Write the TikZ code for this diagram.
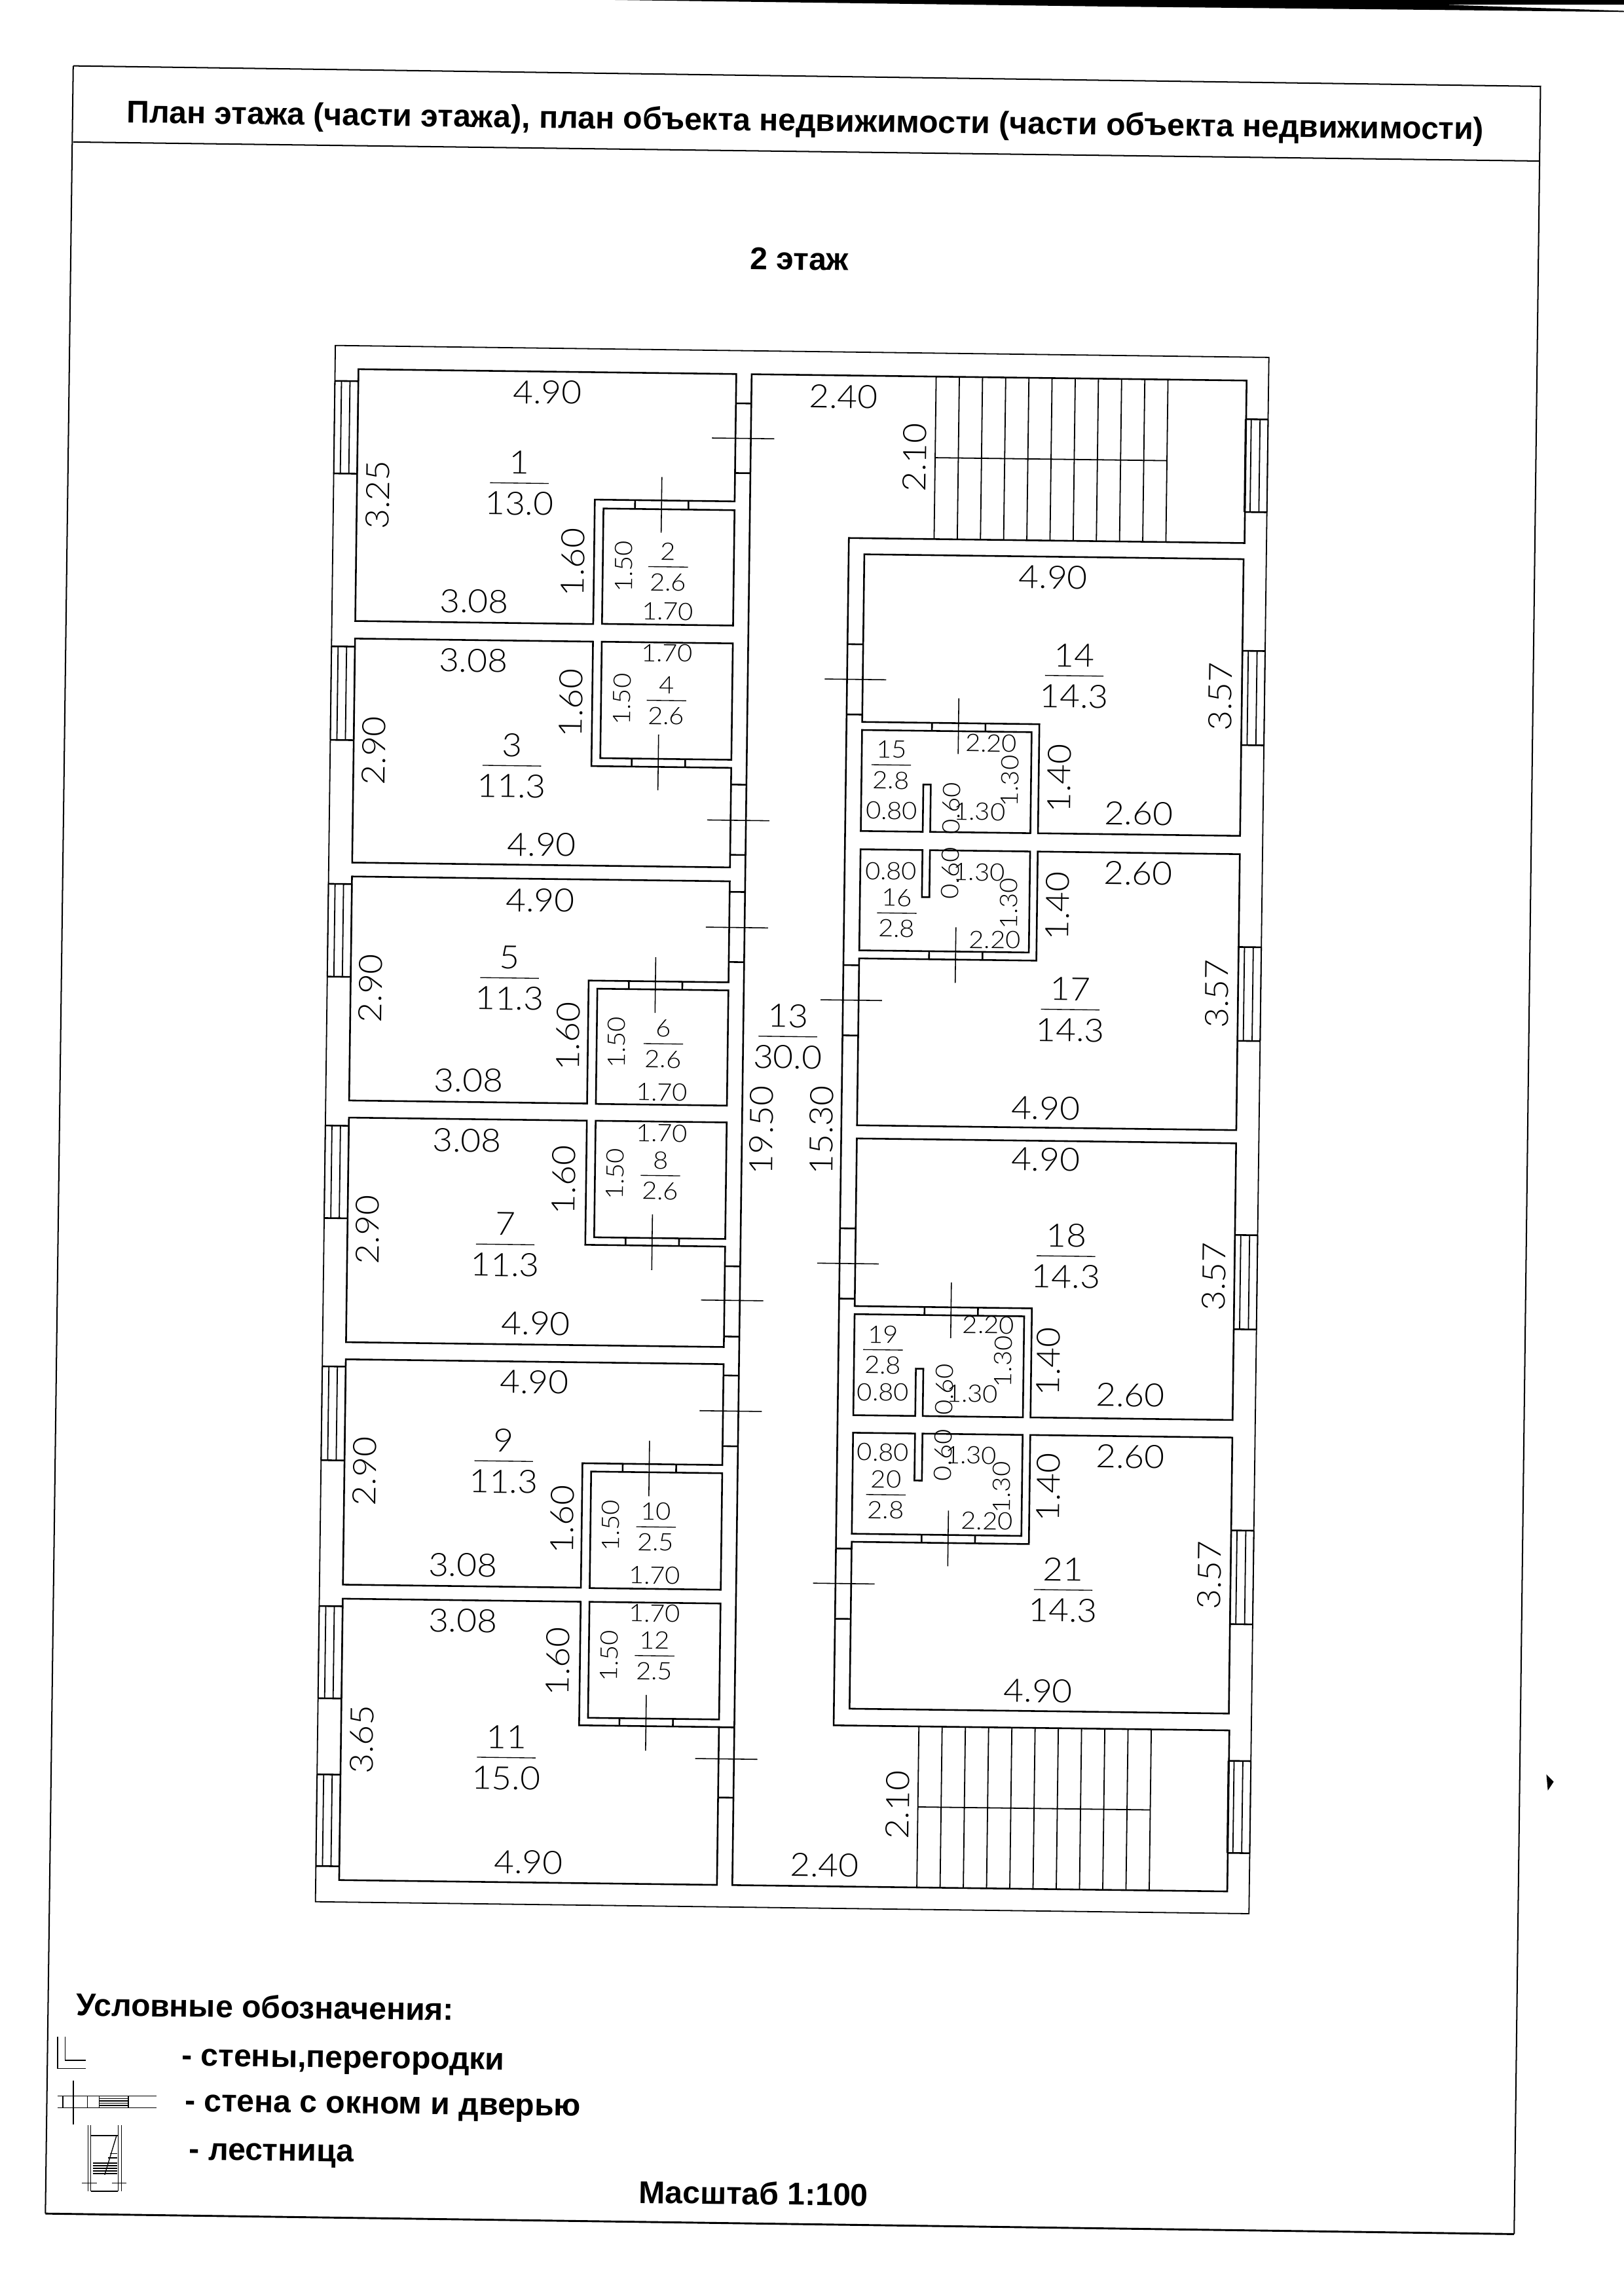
\documentclass[tikz,border=0pt]{standalone}
\usepackage{fontspec}
\setmainfont{Liberation Sans}
\newfontfamily\dimf{Lato Light}
\newcounter{dn}
\tikzset{
  wallthick/.style={line width=1.15pt,line join=miter},
  wallthin/.style={line width=0.8pt},
  framel/.style={line width=0.9pt},
  thinl/.style={line width=0.6pt},
  crossl/.style={line width=0.7pt},
  lbl/.style={inner sep=0pt,font=\dimf\fontsize{22}{22}\selectfont,rotate=-0.72,xscale=1.08},
  lblv/.style={inner sep=0pt,font=\dimf\fontsize{22}{22}\selectfont,rotate=89.28,xscale=1.08},
  sml/.style={inner sep=0pt,font=\dimf\fontsize{16.5}{16.5}\selectfont,rotate=-0.72,xscale=1.08},
  smlv/.style={inner sep=0pt,font=\dimf\fontsize{16.5}{16.5}\selectfont,rotate=89.28,xscale=1.08},
  head/.style={inner sep=0pt,font=\bfseries\fontsize{21.5}{21.5}\selectfont,rotate=-0.72},
  plan/.style={x={(1pt,-0.0128pt)},y={(-0.0128pt,-1pt)}}
}
\newcommand{\pd}[4][lbl]{\stepcounter{dn}\node[#1] (t\arabic{dn}) at (#2,#3) {#4};}
\newcommand{\pr}[7]{% x y num area halfwidth style shift
  \stepcounter{dn}\node[#6] (t\arabic{dn}) at ($(#1,#2)+(0.15,-#7)$) {#3};
  \stepcounter{dn}\node[#6] (t\arabic{dn}) at ($(#1,#2)+(-0.15,#7)$) {#4};
  \draw[thinl] ($(#1,#2)+(-#5,-0.09*#5/7)$) -- ($(#1,#2)+(#5,0.09*#5/7)$);}
\newcommand{\rct}[5][wallthick]{\draw[#1] (#2,#3) -- (#4,#3) -- (#4,#5) -- (#2,#5) -- cycle;}
\newcommand{\wnd}[6]{% u0 ua ub u1 v0 v1
  \draw[wallthin] (#1,#5) -- (#1,#6) (#2,#5) -- (#2,#6) (#3,#5) -- (#3,#6) (#4,#5) -- (#4,#6);
  \draw[wallthick] (#1,#5) -- (#4,#5) (#1,#6) -- (#4,#6);}
\newcommand{\ldoor}[3]{% corridor side doors, left block
  \draw[wallthick] (506,#1) -- (516.5,#1) (506,#2) -- (516.5,#2);
  \draw[crossl] (490,#3) -- (532.5,#3);}
\newcommand{\rdoor}[2]{% right block
  \draw[wallthick] (584.3,#1) -- (595,#1) (584.3,#1+48) -- (595,#1+48);
  \draw[crossl] (569,#2) -- (611,#2);}
\newcommand{\wcdoor}[6]{% ua ub uc va vb, cross start
  \draw[wallthick] (#1,#4) -- (#1,#5) (#2,#4) -- (#2,#5);
  \draw[crossl] (#3,#6) -- (#3,#6+38);}
\usetikzlibrary{calc}
\begin{document}
\begin{tikzpicture}[x=1pt,y=-1pt]
\useasboundingbox (0,0) rectangle (1109,1568.3);
% scan edge at the top right
\fill[black] (420,0) -- (1109,0) -- (1109,3.2) -- (985,3.2) -- (1109,7.4) -- (1109,8.2) -- (985,6.8) -- (760,4.5) -- cycle;
% frame
\draw[framel] (50,45) -- (1052,59) -- (1034,1526);
\draw[line width=1.3pt] (1034,1526) -- (31,1512);
\draw[framel] (31,1512) -- (50,45);
\draw[framel] (50,97) -- (1051,110);
\pd[head]{550}{84}{План этажа (части этажа), план объекта недвижимости (части объекта недвижимости)}
\pd[head]{546}{177}{2 этаж}
% ---------- plan in its own slightly turned axes ----------
\begin{scope}[plan]
\rct[wallthin]{232}{233}{869.5}{1296}
% corridor with stair wells
\draw[wallthick] (516.5,249) -- (854.5,249) -- (854.5,360) -- (584.3,360) -- (584.3,1171) -- (854.5,1171) -- (854.5,1281) -- (516.5,1281) -- cycle;
% left block
\draw[wallthick] (248,249) -- (506,249) -- (506,336) -- (410.5,336) -- (410.5,421) -- (248,421) -- cycle;
\rct{416.5}{342}{506}{420.8}
\draw[wallthick] (248,433) -- (410.5,433) -- (410.5,518) -- (506,518) -- (506,586) -- (248,586) -- cycle;
\rct{416.5}{433}{506}{512.5}
\draw[wallthick] (248,595.5) -- (506,595.5) -- (506,664.5) -- (410.5,664.5) -- (410.5,748.5) -- (248,748.5) -- cycle;
\rct{416.5}{670}{506}{748.7}
\draw[wallthick] (248,760.2) -- (410.5,760.2) -- (410.5,845) -- (506,845) -- (506,913.6) -- (248,913.6) -- cycle;
\rct{416.5}{760.2}{506}{839.8}
\draw[wallthick] (248,925.3) -- (506,925.3) -- (506,994.2) -- (410.5,994.2) -- (410.5,1079.2) -- (248,1079.2) -- cycle;
\rct{416.5}{999.8}{506}{1079.4}
\draw[wallthick] (248,1088.8) -- (410.5,1088.8) -- (410.5,1173.2) -- (506,1173.2) -- (506,1281) -- (248,1281) -- cycle;
\rct{416.5}{1088.8}{506}{1168}
% right block
\draw[wallthick] (595,371) -- (854,371) -- (854,560) -- (716,560) -- (716,485.5) -- (595,485.5) -- cycle;
\draw[wallthick] (595,491) -- (710.8,491) -- (710.8,560) -- (642.4,560) -- (642.4,527.7) -- (637.3,527.7) -- (637.3,560) -- (595,560) -- cycle;
\draw[wallthick] (595,572.5) -- (637.3,572.5) -- (637.3,604.6) -- (642.4,604.6) -- (642.4,572.5) -- (710.8,572.5) -- (710.8,641.5) -- (595,641.5) -- cycle;
\draw[wallthick] (716,572.5) -- (854,572.5) -- (854,761) -- (595,761) -- (595,647) -- (716,647) -- cycle;
\draw[wallthick] (595,770) -- (854,770) -- (854,959) -- (716,959) -- (716,884.5) -- (595,884.5) -- cycle;
\draw[wallthick] (595,890) -- (710.8,890) -- (710.8,959) -- (642.4,959) -- (642.4,926.7) -- (637.3,926.7) -- (637.3,959) -- (595,959) -- cycle;
\draw[wallthick] (595,971) -- (637.3,971) -- (637.3,1003.1) -- (642.4,1003.1) -- (642.4,971) -- (710.8,971) -- (710.8,1040) -- (595,1040) -- cycle;
\draw[wallthick] (716,971) -- (854,971) -- (854,1159.5) -- (595,1159.5) -- (595,1045.5) -- (716,1045.5) -- cycle;
% stairs
\foreach \k in {0,...,10} {
  \draw[wallthin] ({642.5+15.83*\k},249) -- ({642.5+15.83*\k},360);
  \draw[wallthin] ({642.5+15.87*\k},1171) -- ({642.5+15.87*\k},1281);
}
\draw[wallthin] (642.5,304.4) -- (800.8,304.4);
\draw[wallthin] (642.5,1226) -- (801.2,1226);
% windows
\wnd{232}{236.5}{242.3}{248}{257.2}{320.4}
\wnd{232}{236.5}{242.3}{248}{438.5}{502.4}
\wnd{232}{236.5}{242.3}{248}{600.7}{664.1}
\wnd{232}{236.5}{242.3}{248}{765.8}{829}
\wnd{232}{236.5}{242.3}{248}{930.3}{994.4}
\wnd{232}{236.5}{242.3}{248}{1094}{1157}
\wnd{232}{236.5}{242.3}{248}{1209}{1271.6}
\wnd{854}{858}{864}{869.5}{275.4}{338.8}
\wnd{854}{858}{864}{869.5}{433.6}{498}
\wnd{854}{858}{864}{869.5}{635.9}{700}
\wnd{854}{858}{864}{869.5}{832.6}{897}
\wnd{854}{858}{864}{869.5}{1034.4}{1098.4}
\wnd{854}{858}{864}{869.5}{1191.8}{1254.7}
% doors, left block
\ldoor{269}{316.6}{292.9}
\ldoor{529.4}{577.4}{553.8}
\ldoor{602.7}{650.6}{627}
\ldoor{858.4}{906.4}{881.7}
\ldoor{933}{981.3}{957.3}
\ldoor{1173.3}{1221.3}{1194.9}
\rdoor{432.5}{456.5}
\rdoor{651.7}{675.6}
\rdoor{831.5}{855.5}
\rdoor{1050.2}{1074.1}
\wcdoor{438}{474.5}{456.1}{336}{342}{320}
\wcdoor{438}{474.5}{456.1}{512.5}{518}{496}
\wcdoor{438}{474.5}{456.1}{664.5}{670}{648}
\wcdoor{438}{474.5}{456.1}{839.8}{845}{823.6}
\wcdoor{438}{474.5}{456.1}{994.2}{999.8}{978.2}
\wcdoor{438}{474.5}{456.1}{1168}{1173.2}{1151.9}
\wcdoor{642.7}{679.2}{660.8}{485.5}{491}{468.5}
\wcdoor{642.7}{679.2}{660.8}{641.5}{647}{624.9}
\wcdoor{642.7}{679.2}{660.8}{884.5}{890}{867.5}
\wcdoor{642.7}{679.2}{660.8}{1040}{1045.5}{1023.4}
\end{scope}
% ---------- labels: left block ----------
\pd{374}{268}{4.90}\pd[lblv]{258}{338}{3.25}\pr{354.7}{330}{1}{13.0}{20}{lbl}{14}\pd{323.7}{410.7}{3.08}\pd[lblv]{391.2}{384}{1.60}\pd[smlv]{426}{387}{1.50}\pr{456.3}{387.2}{2}{2.6}{13.5}{sml}{10.5}\pd[sml]{456}{417.6}{1.70}
\pd{323.2}{451.3}{3.08}\pd[sml]{455.6}{446.1}{1.70}\pd[lblv]{390}{480.3}{1.60}\pd[smlv]{424.8}{477.6}{1.50}\pr{455.1}{478.5}{4}{2.6}{13.5}{sml}{10.5}\pd[lblv]{255.4}{512.7}{2.90}\pr{349.5}{523}{3}{11.3}{20}{lbl}{14}\pd{370}{577}{4.90}
\pd{369}{615}{4.90}\pd[lblv]{253}{675}{2.90}\pr{348}{668}{5}{11.3}{20}{lbl}{14}\pd[lblv]{388}{708}{1.60}\pd[smlv]{421}{712}{1.50}\pr{453}{713}{6}{2.6}{13.5}{sml}{10.5}\pd{320}{738}{3.08}\pd[sml]{452}{746}{1.70}
\pd{319}{779}{3.08}\pd[sml]{452}{774}{1.70}\pd[lblv]{385}{806}{1.60}\pd[smlv]{420}{802}{1.50}\pr{451}{803}{8}{2.6}{13.5}{sml}{10.5}\pd[lblv]{251}{840}{2.90}\pr{345}{850}{7}{11.3}{20}{lbl}{14}\pd{366}{904}{4.90}
\pd{365}{944}{4.90}\pd[lblv]{249}{1005}{2.90}\pr{344}{998}{9}{11.3}{20}{lbl}{14}\pd[lblv]{384}{1038}{1.60}\pd[smlv]{417}{1042}{1.50}\pr{448}{1043}{10}{2.5}{13.5}{sml}{10.5}\pd{316}{1069}{3.08}\pd[sml]{447}{1076}{1.70}
\pd{316}{1107}{3.08}\pd[sml]{447}{1102}{1.70}\pd[lblv]{381}{1135}{1.60}\pd[smlv]{416}{1131}{1.50}\pr{447}{1131}{12}{2.5}{13.5}{sml}{10.5}\pd[lblv]{247}{1188}{3.65}\pr{345.7}{1200.5}{11}{15.0}{20}{lbl}{14}\pd{361}{1272}{4.90}
% corridor
\pd{576}{271}{2.40}\pd[lblv]{624.6}{312.6}{2.10}\pr{538}{708}{13}{30.0}{20}{lbl}{14}\pd[lblv]{520}{772}{19.50}\pd[lblv]{561}{772}{15.30}\pd{563}{1274}{2.40}\pd[lblv]{613}{1233}{2.10}
% right block
\pd{719.3}{394.3}{4.90}\pr{733.6}{461.6}{14}{14.3}{20}{lbl}{14}\pd[lblv]{833.4}{475.8}{3.57}\pd{777.5}{555.6}{2.60}\pd[lblv]{723.4}{531.7}{1.40}
\pr{608.6}{522.5}{15}{2.8}{13.5}{sml}{10.5}\pd[sml]{677}{507.7}{2.20}\pd[smlv]{689.6}{533.5}{1.30}\pd[sml]{609}{553.8}{0.80}\pd[smlv]{649.7}{552.2}{0.60}\pd[sml]{669}{554.5}{1.30}
\pd[sml]{608.4}{595}{0.80}\pd[smlv]{649}{596.5}{0.60}\pd[sml]{668.7}{595.7}{1.30}\pd[smlv]{688.9}{617.3}{1.30}\pr{612.4}{623.7}{16}{2.8}{13.5}{sml}{10.5}\pd[sml]{679.3}{642}{2.20}\pd[lblv]{722.3}{618.9}{1.40}\pd{777.2}{596.5}{2.60}\pd[lblv]{831}{678.8}{3.57}\pr{730.9}{689.6}{17}{14.3}{20}{lbl}{14}\pd{714}{757}{4.90}
\pd{714}{792}{4.90}\pr{728}{858}{18}{14.3}{20}{lbl}{14}\pd[lblv]{829}{872}{3.57}\pr{603}{922}{19}{2.8}{13.5}{sml}{10.5}\pd[sml]{675}{905}{2.20}\pd[smlv]{685}{930}{1.30}\pd[sml]{603}{951}{0.80}\pd[smlv]{645}{949}{0.60}\pd[sml]{664}{952}{1.30}\pd[lblv]{716}{930}{1.40}\pd{772}{953}{2.60}
\pd[sml]{603}{992}{0.80}\pd[smlv]{644}{994}{0.60}\pd[sml]{663}{994}{1.30}\pd[smlv]{684}{1016}{1.30}\pr{605}{1021}{20}{2.8}{13.5}{sml}{10.5}\pd[sml]{674}{1039}{2.20}\pd[lblv]{716}{1016}{1.40}\pd{772}{995}{2.60}\pr{726}{1086}{21}{14.3}{20}{lbl}{14}\pd[lblv]{826}{1076}{3.57}\pd{709}{1155}{4.90}
% legend
\pd[head,anchor=west]{52}{1369}{Условные обозначения:}
\pd[head,anchor=west]{124}{1407.5}{- стены,перегородки}
\pd[head,anchor=west]{126}{1438.5}{- стена с окном и дверью}
\pd[head,anchor=west]{129}{1471.5}{- лестница}
\pd[head]{514.5}{1498}{Масштаб 1:100}
% legend symbols
\draw[thinl] (39.3,1391) -- (39.3,1413) -- (58.7,1413) (44.4,1391) -- (44.4,1407.3) -- (58.7,1407.3);
\draw[thinl] (39.3,1431.8) -- (106.8,1431.8) (39.3,1439.7) -- (106.8,1439.7) (50.1,1421) -- (50.1,1451.2);
\draw[thinl] (43,1431.8) -- (43,1439.7) (59.8,1431.8) -- (59.8,1439.7) (67.8,1431.8) -- (67.8,1439.7) (87.7,1431.8) -- (87.7,1439.7);
\foreach \yy in {1433.4,1435.0,1436.6,1438.2} \draw[thinl] (67.8,\yy) -- (87.7,\yy);
\draw[thinl] (60,1451.5) -- (60,1496.7) (62,1451.5) -- (62,1496.7) (80.6,1451.5) -- (80.6,1496.7) (83,1451.5) -- (83,1496.7);
\draw[line width=0.9pt] (62,1458.7) -- (80.6,1458.7);
\draw[thinl] (79.5,1459) -- (71.5,1485.5);
\foreach \yy in {1477.5,1479.3,1481.1,1482.9,1484.7} \draw[thinl] (63.5,\yy) -- (80,\yy);
\draw[thinl] (75,1471) -- (80,1471) (74,1474) -- (80,1474);
\draw[thinl] (55.8,1491) -- (66.3,1491) (76.3,1491) -- (86.3,1491) (62,1496.7) -- (80.6,1496.7) (62,1485.5) -- (62,1496.7);
% speck
\fill (1056,1212) -- (1061,1217) -- (1057,1223) -- cycle;
\end{tikzpicture}
\end{document}
